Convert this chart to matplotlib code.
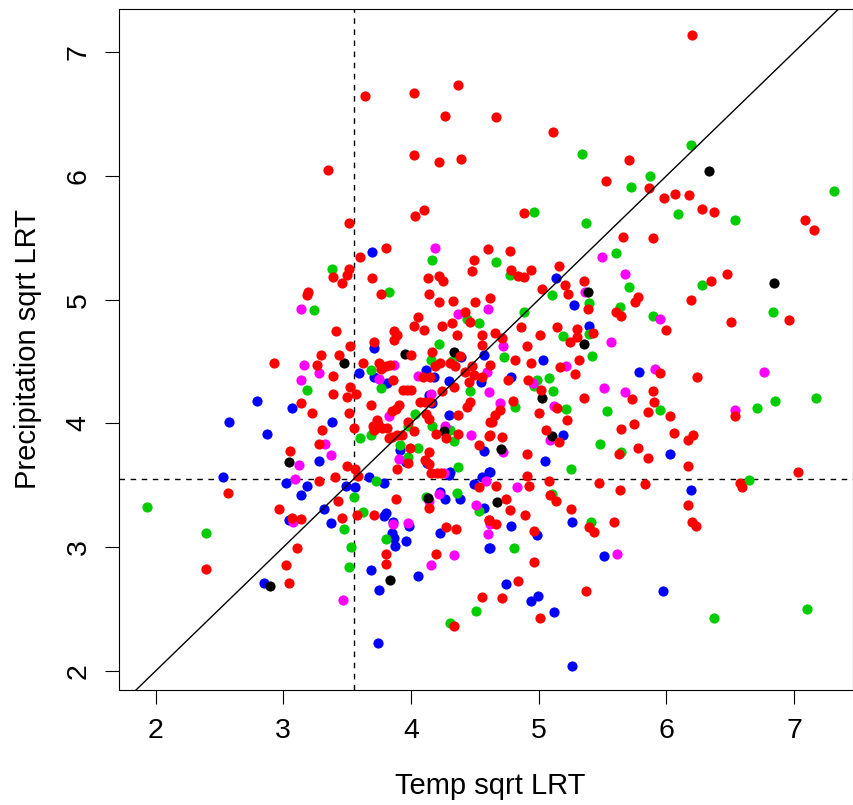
import matplotlib
matplotlib.use('Agg')
import matplotlib.pyplot as plt

plt.rcParams['font.family'] = ['Liberation Sans', 'DejaVu Sans']

red_x = [3.643, 4.026, 4.371, 4.269, 4.026, 4.222, 4.394, 3.354, 4.102, 4.034, 3.515, 3.807, 3.604, 4.60, 4.496, 4.480,
         3.515, 3.50, 3.393, 3.46, 3.698, 4.133, 4.222, 4.253, 3.197, 3.189, 3.766, 4.144, 4.222, 4.332, 4.504, 4.616,
         4.426, 4.465, 4.058, 4.026, 4.102, 4.246, 4.319, 4.363, 4.558, 4.558, 3.416, 3.865, 3.894, 3.865, 3.526, 3.713,
         6.202, 4.666, 5.112, 5.709, 5.526, 5.865, 5.983, 6.069, 6.178, 6.28, 6.374, 4.885, 7.086, 7.156, 5.657, 5.897,
         4.775, 5.161, 4.783, 4.838, 4.885, 4.939, 6.470, 6.35, 5.357, 5.208, 5.026, 5.232, 5.779, 5.756, 6.191, 5.385,
         5.607, 5.646, 6.507, 6.961, 5.996, 4.861, 5.145, 5.299, 5.427, 4.66, 5.012, 4.715, 5.299, 5.247, 4.911,
         2.928, 3.299, 3.44, 3.267, 3.393, 3.627, 4.003, 4.167, 3.753, 3.768, 3.807, 3.839, 3.86, 3.526, 3.393, 3.502,
         3.573, 3.142, 3.228, 3.69, 3.515, 3.307, 3.557, 3.278, 3.056, 3.938, 3.969, 4.0, 4.094, 4.152, 4.191, 4.23,
         4.308, 4.347, 4.387, 4.426, 4.48, 4.496, 4.558, 4.452, 4.334, 4.246, 4.073, 4.113, 4.152, 4.465, 4.439, 3.906,
         3.88, 3.855, 4.12, 4.144, 4.371, 3.974, 3.734, 3.745, 3.703, 3.713, 3.773, 3.813, 4.026, 3.891, 3.933, 3.852,
         3.826, 4.199, 4.277, 4.371, 4.616, 4.608, 4.535, 3.995, 4.144, 4.113, 4.144, 3.979, 3.891, 4.157, 4.204, 4.238,
         3.502, 3.56, 3.583, 3.408, 3.283, 4.535, 3.429, 3.886, 4.144, 2.97, 3.069, 3.137, 3.463, 3.58, 3.713, 4.608,
         4.277, 4.353, 3.111, 3.807, 4.199, 3.025, 3.807, 2.399, 3.048, 4.558, 4.339, 2.568,
         4.621, 4.817, 4.942, 5.169, 5.318, 5.286, 4.919, 4.762, 5.015, 4.801, 4.699, 4.66, 4.637, 5.005, 5.145, 5.224,
         5.059, 5.161, 5.357, 5.732, 5.897, 5.905, 5.857, 6.03, 5.951, 6.241, 6.538, 5.646, 5.745, 6.061, 6.21, 6.168,
         5.779, 5.857, 5.625, 6.171, 4.621, 4.715, 4.911, 4.911, 4.926, 4.666, 5.083, 5.474, 5.638, 5.834, 7.031, 6.572,
         6.593, 5.091, 5.138, 4.746, 4.778, 5.255, 6.171, 4.895, 4.611, 4.666, 5.591, 6.197, 6.233, 4.966, 5.396, 5.43,
         4.966, 4.84, 5.372, 4.715, 5.012]
red_y = [6.642, 6.666, 6.733, 6.483, 6.170, 6.114, 6.135, 6.047, 5.723, 5.675, 5.621, 5.417, 5.341, 5.408, 5.320, 5.228,
         5.244, 5.20, 5.185, 5.136, 5.171, 5.171, 5.193, 5.147, 5.061, 5.034, 5.045, 5.045, 4.98, 4.989, 4.98, 5.015,
         4.90, 4.821, 4.857, 4.789, 4.754, 4.789, 4.811, 4.714, 4.714, 4.633, 4.743, 4.743, 4.714, 4.673, 4.625, 4.655,
         7.137, 6.475, 6.351, 6.127, 5.958, 5.901, 5.82, 5.853, 5.845, 5.732, 5.707, 5.699, 5.643, 5.562, 5.505, 5.495,
         5.395, 5.271, 5.239, 5.193, 5.185, 5.239, 5.204, 5.15, 5.15, 5.118, 5.083, 5.045, 5.018, 4.98, 4.999, 4.924,
         4.90, 4.867, 4.821, 4.832, 4.754, 4.778, 4.778, 4.765, 4.733, 4.733, 4.711, 4.687, 4.70, 4.66, 4.625,
         4.486, 4.556, 4.556, 4.475, 4.386, 4.486, 4.556, 4.577, 4.486, 4.437, 4.464, 4.475, 4.351, 4.297, 4.238, 4.216,
         4.238, 4.162, 4.082, 4.149, 4.082, 3.95, 3.96, 3.834, 3.777, 4.273, 4.273, 4.273, 4.372, 4.372, 4.464, 4.486,
         4.486, 4.464, 4.545, 4.418, 4.464, 4.391, 4.372, 4.337, 4.297, 4.265, 4.173, 4.173, 4.173, 4.176, 4.135, 4.149,
         4.117, 4.1, 4.076, 4.036, 4.068, 4.014, 4.028, 3.995, 3.979, 3.947, 3.96, 3.96, 3.936, 3.907, 3.907, 3.893,
         3.88, 3.915, 3.88, 3.915, 4.014, 3.899, 3.826, 3.804, 3.769, 3.705, 3.672, 3.68, 3.632, 3.597, 3.597, 3.597,
         3.654, 3.629, 3.575, 3.565, 3.535, 3.489, 3.374, 3.387, 3.317, 3.306, 3.236, 3.228, 3.239, 3.26, 3.26, 3.217,
         3.163, 3.15, 2.991, 2.948, 2.948, 2.857, 2.867, 2.824, 2.711, 2.601, 2.364, 3.441,
         4.475, 4.510, 4.486, 4.453, 4.510, 4.397, 4.351, 4.351, 4.273, 4.184, 4.109, 4.068, 4.014, 4.082, 4.125, 4.025,
         3.947, 3.847, 4.208, 4.195, 4.262, 4.173, 4.09, 4.06, 4.41, 4.372, 4.06, 3.958, 3.993, 3.925, 3.907, 3.869,
         3.804, 3.724, 3.756, 3.654, 3.904, 3.89, 3.756, 3.576, 3.497, 3.497, 3.535, 3.519, 3.462, 3.511, 3.608, 3.522,
         3.487, 3.425, 3.374, 3.387, 3.303, 3.306, 3.341, 3.26, 3.217, 3.185, 3.207, 3.207, 3.172, 3.128, 3.163, 3.123,
         2.881, 2.725, 2.644, 2.587, 2.431]

green_x = [4.167, 3.385, 3.831, 3.241, 4.441, 4.535, 4.222, 5.341, 6.191, 5.873, 5.725, 4.966, 7.313, 6.092, 6.538, 5.372,
           5.607, 4.666, 4.773, 6.28, 5.709, 5.106, 5.396, 5.638, 6.833, 5.894, 4.885, 5.192, 5.391,
           3.189, 3.69, 3.768, 4.159, 4.321, 4.465, 4.034, 3.974, 4.167, 4.308, 4.334, 3.604, 3.69, 3.917, 4.058, 3.979,
           4.371, 3.727, 3.557, 4.12, 4.363, 3.627, 4.535, 3.479, 2.399, 3.807, 3.533, 3.515, 1.937, 4.511, 4.308,
           4.731, 5.419, 4.986, 5.08, 4.96, 5.112, 4.817, 5.211, 5.537, 5.951, 6.71, 6.851, 7.169, 5.482, 5.646, 5.255,
           6.648, 5.106, 5.412, 4.809, 6.374, 7.102]
green_y = [5.32, 5.25, 5.058, 4.913, 4.843, 4.811, 4.644, 6.179, 6.249, 6.001, 5.909, 5.71, 5.877, 5.688, 5.643, 5.621,
           5.373, 5.303, 5.198, 5.115, 5.102, 5.037, 4.97, 4.937, 4.90, 4.87, 4.902, 4.708, 4.72,
           4.27, 4.432, 4.284, 4.512, 4.507, 4.262, 4.076, 3.979, 3.979, 3.947, 3.858, 3.88, 3.904, 3.823, 3.804, 3.732,
           3.645, 3.538, 3.409, 3.409, 3.441, 3.285, 3.293, 3.147, 3.115, 3.069, 3.002, 2.843, 3.328, 2.485, 2.388,
           4.539, 4.542, 4.351, 4.364, 4.30, 4.262, 4.135, 4.114, 4.103, 4.106, 4.127, 4.184, 4.208, 3.837, 3.772, 3.632,
           3.543, 3.433, 3.207, 2.991, 2.431, 2.498]

blue_x = [3.698, 3.713, 5.138, 5.279, 5.396,
          2.795, 3.072, 2.579, 2.876, 3.385, 3.283, 3.591, 3.708, 3.813, 4.12, 4.178, 4.3, 4.548, 4.569, 4.392, 4.139,
          4.165, 4.3, 4.569, 3.917, 3.96, 4.126, 4.308, 4.3, 2.532, 3.025, 3.189, 3.142, 3.494, 3.56, 3.674, 3.789,
          3.322, 3.048, 3.374, 3.792, 3.807, 3.86, 3.982, 3.854, 3.87, 3.878, 3.964, 4.23, 4.23, 4.269, 4.387, 4.569,
          4.491, 4.556, 4.608, 4.608, 3.69, 4.058, 2.85, 3.753, 3.745,
          5.036, 4.786, 5.787, 6.03, 5.19, 5.052, 4.621, 6.191, 5.263, 4.786, 4.989, 4.621, 5.513, 4.746, 5.972, 4.997,
          4.942, 5.122, 5.263]
blue_y = [5.387, 4.606, 5.174, 4.956, 4.789,
          4.184, 4.125, 4.014, 3.915, 4.014, 3.699, 4.41, 4.372, 4.324, 4.432, 4.372, 4.346, 4.337, 4.553, 4.539, 4.23,
          4.162, 4.068, 3.777, 3.785, 3.691, 3.678, 3.61, 3.584, 3.565, 3.519, 3.497, 3.422, 3.497, 3.489, 3.567, 3.519,
          3.306, 3.217, 3.196, 3.252, 3.274, 3.204, 3.172, 3.115, 3.075, 3.01, 3.048, 3.115, 3.449, 3.392, 3.39, 3.32,
          3.511, 3.567, 3.605, 2.991, 2.816, 2.768, 2.711, 2.655, 2.229,
          4.51, 4.378, 4.418, 3.756, 3.907, 3.699, 3.61, 3.462, 3.204, 3.172, 3.099, 2.994, 2.93, 2.70, 2.644, 2.609,
          2.568, 2.477, 2.038]

magenta_x = [4.191, 3.142, 4.371, 4.605, 5.498, 5.678, 5.365, 5.951, 5.568, 4.723,
             3.166, 3.283, 3.142, 3.865, 3.753, 4.058, 4.157, 4.608, 4.595, 3.831, 4.269, 4.47, 3.327, 3.374, 3.127,
             3.906, 4.261, 3.088, 4.59, 4.217, 4.139, 4.512, 3.077, 3.862, 3.979, 4.6, 4.339, 4.157, 3.471,
             5.216, 4.958, 5.513, 5.678, 5.907, 6.765, 6.538, 4.699, 5.122, 5.091, 4.72, 4.83, 5.615, 4.621]
magenta_y = [5.417, 4.924, 4.883, 4.924, 5.341, 5.204, 5.058, 4.843, 4.655, 4.625,
             4.475, 4.41, 4.351, 4.475, 4.362, 4.386, 4.24, 4.251, 4.418, 4.06, 3.982, 3.907, 3.834, 3.745, 3.667,
             3.713, 3.597, 3.551, 3.532, 3.433, 3.376, 3.341, 3.204, 3.188, 3.196, 3.107, 2.937, 2.857, 2.574,
             4.464, 4.329, 4.284, 4.251, 4.442, 4.418, 4.109, 4.165, 4.141, 3.866, 3.772, 3.489, 2.948, 3.19]

black_x = [6.332, 6.841, 5.385, 5.357, 3.479, 3.956, 4.339, 4.261, 3.048, 4.131, 3.839, 2.894, 5.026, 5.106, 4.702, 4.676]
black_y = [6.036, 5.137, 5.058, 4.644, 4.486, 4.564, 4.574, 3.939, 3.689, 3.398, 2.735, 2.687, 4.205, 3.901, 3.794, 3.363]

x_cut = 3.55
y_cut = 3.55
ticks = [2, 3, 4, 5, 6, 7]

fig = plt.figure(figsize=(8.54, 8.05), dpi=100)
ax = fig.add_axes([119.5 / 854, 1 - 690 / 805, (853 - 119.5) / 854, (690 - 9) / 805])

# blue goes first, red last, which is how most of the overlaps look
for xs, ys, col in [(blue_x, blue_y, '#0000FF'), (green_x, green_y, '#00CD00'),
                    (magenta_x, magenta_y, '#FF00FF'), (black_x, black_y, 'black'),
                    (red_x, red_y, '#FF0000')]:
    ax.scatter(xs, ys, s=54, c=col, linewidths=0, zorder=3)

ax.axline((2, 2), slope=1, color='black', lw=1.0, zorder=4)
ax.axvline(x_cut, color='black', lw=1.0, ls=(0, (4, 4)), zorder=2)
ax.axhline(y_cut, color='black', lw=1.0, ls=(0, (4, 4)), zorder=2)

ax.set_xlim(1.718, 7.46)
ax.set_ylim(1.847, 7.347)
ax.set_xticks(ticks)
ax.set_yticks(ticks)
ax.tick_params(length=10, width=0.8, labelsize=20.5, pad=10)
ax.tick_params(axis='y', labelrotation=90)
for lab in ax.get_yticklabels():
    lab.set_va('center')
ax.set_xlabel('Temp sqrt LRT', fontsize=21, labelpad=20, x=0.505)
ax.set_ylabel('Precipitation sqrt LRT', fontsize=21, labelpad=17)

fig.savefig('out.png', dpi=100)
